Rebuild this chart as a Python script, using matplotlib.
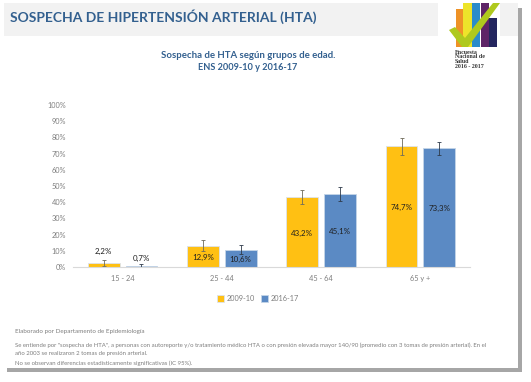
from matplotlib import pyplot as plt
from matplotlib.patches import Polygon, Rectangle
import numpy as np

# Chart data
categories = ["15 - 24", "25 - 44", "45 - 64", "65 y +"]
series_names = ["2009-10", "2016-17"]
values_2009 = [2.2, 12.9, 43.2, 74.7]
values_2016 = [0.7, 10.6, 45.1, 73.3]
low_2009 = [0.4, 9.9, 38.9, 69.0]
high_2009 = [4.3, 16.4, 47.5, 79.6]
low_2016 = [0.2, 8.0, 40.7, 69.0]
high_2016 = [1.6, 13.8, 49.6, 77.4]
labels_2009 = ["2,2%", "12,9%", "43,2%", "74,7%"]
labels_2016 = ["0,7%", "10,6%", "45,1%", "73,3%"]
y_ticks = [0, 10, 20, 30, 40, 50, 60, 70, 80, 90, 100]

W, H = 531, 382
YELLOW = "#FFC013"
BLUE = "#5B8AC4"
TITLE_BLUE = "#33608F"
GREY = "#7F7F7F"

plt.rcParams["font.family"] = ["Lato", "DejaVu Sans"]

fig = plt.figure(figsize=(W / 100, H / 100), dpi=100)

# Background layer in pixel coordinates (slide, shadow, header, logo)
bg = fig.add_axes([0, 0, 1, 1])
bg.set_xlim(0, W)
bg.set_ylim(H, 0)
bg.axis("off")

bg.add_patch(Rectangle((7, 8), 515, 364, color="#A6A6A6", lw=0))
bg.add_patch(Rectangle((4, 3), 514, 365, color="white", lw=0))
bg.add_patch(Rectangle((4, 3), 434, 33, color="#F2F2F2", lw=0))
bg.add_patch(Rectangle((500, 3), 18, 33, color="#F2F2F2", lw=0))

# Logo
bg.add_patch(Rectangle((456, 9), 7, 38, color="#EE9226", lw=0))
bg.add_patch(Rectangle((463, 3), 9, 44, color="#EDE42A", lw=0))
bg.add_patch(Rectangle((472, 3), 8, 44, color="#2B8CCB", lw=0))
bg.add_patch(Rectangle((481, 3), 8, 44, color="#5E2467", lw=0))
bg.add_patch(Rectangle((489, 18), 8, 29, color="#24265F", lw=0))
check = [(449, 30), (455, 27), (465, 38), (493, 3), (500, 3), (468, 47), (462, 47)]
bg.add_patch(Polygon(check, closed=True, color="#AFC91E", lw=0))
bg.text(455, 49.5, "Encuesta\nNacional de\nSalud\n2016 - 2017", fontsize=4.2,
        family="Liberation Serif", weight="bold", color="#333333",
        va="top", ha="left", linespacing=0.95)

bg.text(10, 17, "SOSPECHA DE HIPERTENSIÓN ARTERIAL (HTA)", fontsize=10,
        weight="bold", color=TITLE_BLUE, va="center", ha="left")
bg.text(248, 55.5, "Sospecha de HTA según grupos de edad.", fontsize=6.9,
        weight="bold", color=TITLE_BLUE, va="center", ha="center")
bg.text(248, 67.5, "ENS 2009-10 y 2016-17", fontsize=6.6,
        weight="bold", color=TITLE_BLUE, va="center", ha="center")

# Footer notes
bg.text(15, 331, "Elaborado por Departamento de Epidemiología", fontsize=4.5,
        color=GREY, va="center")
bg.text(15, 345.5, "Se entiende por \"sospecha de HTA\", a personas con autoreporte "
        "y/o tratamiento médico HTA o con presión elevada mayor 140/90 (promedio "
        "con 3 tomas de presión arterial). En el", fontsize=4.3, color=GREY, va="center")
bg.text(15, 354, "año 2003 se realizaron 2 tomas de presión arterial.", fontsize=4.3,
        color=GREY, va="center")
bg.text(15, 363, "No se observan diferencias estadísticamente significativas (IC 95%).",
        fontsize=4.3, color=GREY, va="center")

# Plot area
left, right, top, bottom = 73, 470, 105, 267
ax = fig.add_axes([left / W, 1 - bottom / H, (right - left) / W, (bottom - top) / H])
ax.patch.set_alpha(0)

x = np.arange(len(categories))
offset = 0.19
width = 0.32

bars1 = ax.bar(x - offset, values_2009, width, color=YELLOW, edgecolor="#DCE3EE",
               linewidth=0.6, label=series_names[0])
bars2 = ax.bar(x + offset, values_2016, width, color=BLUE, edgecolor="#C5D5E8",
               linewidth=0.6, label=series_names[1])

# Error bars
err1 = [np.array(values_2009) - np.array(low_2009), np.array(high_2009) - np.array(values_2009)]
err2 = [np.array(values_2016) - np.array(low_2016), np.array(high_2016) - np.array(values_2016)]
ax.errorbar(x - offset, values_2009, yerr=err1, fmt="none", ecolor="#6E6A5A",
            elinewidth=0.6, capsize=1.2, capthick=0.6)
ax.errorbar(x + offset, values_2016, yerr=err2, fmt="none", ecolor="#2E3A4A",
            elinewidth=0.6, capsize=1.2, capthick=0.6)

# Value labels, the first group sits above the small bars
for i in range(len(categories)):
    if i == 0:
        y1, y2 = 9.5, 5.0
    else:
        y1, y2 = values_2009[i] / 2 - 0.7, values_2016[i] / 2 - 0.7
    ax.text(x[i] - offset, y1, labels_2009[i], fontsize=5.7, color="#1F1F1F",
            ha="center", va="center")
    ax.text(x[i] + offset, y2, labels_2016[i], fontsize=5.7, color="#1F1F1F",
            ha="center", va="center")

ax.set_xlim(-0.5, 3.5)
ax.set_ylim(0, 100)
ax.set_yticks(y_ticks)
ax.set_yticklabels([str(t) + "%" for t in y_ticks])
ax.set_xticks(x)
ax.set_xticklabels(categories)
ax.tick_params(axis="both", length=0, labelsize=5.3, labelcolor=GREY)
ax.tick_params(axis="x", pad=5.5)
ax.tick_params(axis="y", pad=5)
for name in ["top", "right", "left"]:
    ax.spines[name].set_visible(False)
ax.spines["bottom"].set_color("#D9D9D9")
ax.spines["bottom"].set_linewidth(0.8)

fig.legend(handles=[bars1, bars2], labels=series_names, loc="center",
           bbox_to_anchor=(258 / W, 1 - 298.5 / H), ncol=2, frameon=False,
           fontsize=5.3, labelcolor=GREY, handlelength=0.9, handleheight=0.9,
           handletextpad=0.35, columnspacing=0.9)

fig.savefig("out.png", dpi=100)
plt.close()
